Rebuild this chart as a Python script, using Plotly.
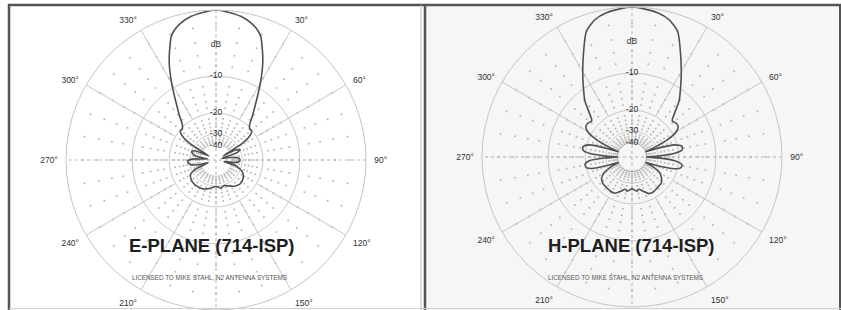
import plotly.graph_objects as go

W, H = 841, 310

# ---------------- data (dB, angle clockwise from 0 = boresight) ----------------
E_THETA = [0, 10, 15, 18, 20, 23, 25, 27, 30, 33, 36, 40, 43, 47, 51, 55, 58, 60, 63, 67, 71, 75,
           80, 86, 92, 97, 101, 106, 115, 125, 135, 145, 155, 163, 170, 175, 180, 185, 190, 197,
           205, 212, 220, 230, 240, 246, 251, 255, 260, 267, 272, 277, 281, 286, 290, 294, 299,
           302, 305, 309, 313, 317, 320, 324, 327, 330, 333, 335, 337, 340, 342, 345, 350, 360]
E_DB = [0, -0.5, -1.1, -1.7, -2.3, -4.0, -5.2, -6.6, -9.0, -11.6, -14.0, -16.8, -19.0, -20.3, -20.3,
        -22.5, -28, -50, -33, -30, -33, -55,
        -40, -32, -31.5, -35, -50, -34, -28, -26, -25.5, -26.5, -28.5, -29.5, -28.5, -29.3, -29.6,
        -29.3, -28.5, -27.5, -26.6, -26.4, -26.2, -26.6, -27.9, -33, -50, -36, -30, -28.5, -31,
        -50, -34, -31, -30.3, -33, -50, -28, -22.5, -20.3, -20.3, -19.0, -16.8, -14.0, -11.6,
        -9.0, -6.6, -5.2, -4.0, -2.3, -1.7, -1.1, -0.5, 0]

H_THETA = [0, 10, 15, 20, 25, 30, 35, 40, 44, 48, 53, 57, 61, 64, 67, 69, 71, 74, 78, 82, 85, 88,
           90, 92, 95, 99, 103, 106, 109, 112, 115, 119, 125, 132, 140, 148, 155, 162, 168, 172,
           177, 180, 183, 188, 192, 198, 205, 212, 220, 228, 235, 241, 245, 248, 251, 254, 257,
           261, 265, 268, 270, 272, 275, 278, 282, 286, 289, 291, 293, 296, 299, 303, 307, 312,
           316, 320, 325, 330, 335, 340, 345, 350, 360]
H_DB = [0, -0.4, -0.9, -2.0, -4.6, -7.2, -9.8, -12.3, -15.3, -17.5, -17.0, -17.2, -19, -23, -32,
        -40, -30, -21, -18.5, -18.6, -21.5, -30, -40, -30, -21.5, -18.6, -19, -22, -30, -40, -32,
        -27, -24.5, -23, -22.8, -22.3, -22.5, -24.5, -26, -25.2, -26.2, -26.8, -26.2, -25.2, -26,
        -24.5, -22.7, -22.5, -22.8, -23, -24, -27, -32, -40, -30, -22, -20, -19.7, -21.5, -30, -40,
        -30, -21.5, -19, -18.9, -21, -30, -40, -32, -23, -19, -17.2, -17.0, -17.5, -15.3, -12.3,
        -9.8, -7.2, -4.6, -2.0, -0.9, -0.4, 0]

ANGLE_TICKS = [30, 60, 90, 120, 150, 210, 240, 270, 300, 330]
ANGLE_LABELS = ["30°", "60°", "90°", "120°", "150°", "210°", "240°", "270°", "300°", "330°"]
RING_DB = [-10, -20, -30]
RING_LABELS = ["-10", "-20", "-30", "-40"]
RING_LABEL_DB = [-10, -20, -30, -40]
DB_UNIT_LEVEL = -4.5
TITLES = ["E-PLANE (714-ISP)", "H-PLANE (714-ISP)"]
LICENSE = "LICENSED TO MIKE STAHL, N2 ANTENNA SYSTEMS"
FLOOR_DB = [-60, -40]


def arrl(db):
    # ARRL log-periodic radial scale (0.89 per 2 dB)
    return 0.89 ** (-db / 2.0)


GRID = "#c4c4c4"
DOT = "#b8b8b8"
CURVE = "#505050"
TXT = "#303030"

fig = go.Figure()

panels = [
    dict(name="polar", cx=216, cy=160, R=150, theta=E_THETA, db=E_DB),
    dict(name="polar2", cx=632, cy=157, R=150, theta=H_THETA, db=H_DB),
]

full_circle = list(range(0, 361, 2))
for i, p in enumerate(panels):
    sp = p["name"]
    # dotted grid points
    dth, dr = [], []
    for a in range(0, 360, 10):
        for lv in range(-2, -40, -2):
            if lv % 10 == 0:
                continue
            dth.append(a)
            dr.append(arrl(lv))
    fig.add_trace(go.Scatterpolar(theta=dth, r=dr, mode="markers", subplot=sp,
                                  marker=dict(size=2, color=DOT), hoverinfo="skip"))
    # rings
    for lv in RING_DB:
        fig.add_trace(go.Scatterpolar(theta=full_circle, r=[arrl(lv)] * len(full_circle),
                                      mode="lines", subplot=sp, hoverinfo="skip",
                                      line=dict(color=GRID, width=1)))
    if i == 1:
        fig.add_trace(go.Scatterpolar(theta=full_circle, r=[arrl(-40)] * len(full_circle),
                                      mode="lines", subplot=sp, hoverinfo="skip",
                                      line=dict(color="#8a8a8a", width=1)))
    # solid spokes
    for a in [30, 60, 120, 150, 210, 240, 300, 330]:
        fig.add_trace(go.Scatterpolar(theta=[a, a], r=[arrl(-20), 1], mode="lines", subplot=sp,
                                      hoverinfo="skip", line=dict(color=GRID, width=1)))
    # dotted axes
    for a in [0, 90]:
        fig.add_trace(go.Scatterpolar(theta=[a, a + 180], r=[1, 1], mode="lines", subplot=sp,
                                      hoverinfo="skip", line=dict(color="#b0b0b0", width=1, dash="dot")))
    # pattern curve
    rr = [arrl(max(d, FLOOR_DB[i])) for d in p["db"]]
    fig.add_trace(go.Scatterpolar(theta=p["theta"], r=rr, mode="lines", subplot=sp,
                                  line=dict(color=CURVE, width=1.6, shape="spline", smoothing=0.7),
                                  hoverinfo="skip"))
    # radial labels
    fig.add_trace(go.Scatterpolar(theta=[0] * 5, r=[arrl(DB_UNIT_LEVEL)] + [arrl(v) for v in RING_LABEL_DB],
                                  text=["dB"] + RING_LABELS, mode="text", subplot=sp,
                                  textfont=dict(size=8.5, color=TXT, family="Liberation Sans"),
                                  hoverinfo="skip"))

    R = p["R"]
    x0 = (p["cx"] - R) / W
    x1 = (p["cx"] + R) / W
    y0 = (H - p["cy"] - R) / H
    y1 = (H - p["cy"] + R) / H
    fig.update_layout(**{sp: dict(
        domain=dict(x=[x0, x1], y=[max(0, y0), min(1, y1)]),
        bgcolor="rgba(0,0,0,0)",
        radialaxis=dict(range=[0, 1], visible=False),
        angularaxis=dict(rotation=90, direction="clockwise", tickmode="array",
                         tickvals=ANGLE_TICKS, ticktext=ANGLE_LABELS, showgrid=False,
                         showline=True, linecolor=GRID, linewidth=1, ticks="outside",
                         ticklen=6, tickcolor="rgba(0,0,0,0)",
                         tickfont=dict(size=8.5, color=TXT, family="Liberation Sans")),
    )})

# panel frames
shapes = [
    dict(type="rect", xref="paper", yref="paper", x0=426 / W, x1=839 / W, y0=0, y1=(H - 6) / H,
         fillcolor="#f6f6f6", line=dict(width=0), layer="below"),
    dict(type="line", xref="paper", yref="paper", x0=8 / W, x1=1, y0=(H - 5) / H, y1=(H - 5) / H,
         line=dict(color="#555555", width=2.5)),
    dict(type="line", xref="paper", yref="paper", x0=9 / W, x1=9 / W, y0=0, y1=(H - 4) / H,
         line=dict(color="#555555", width=2.5)),
    dict(type="line", xref="paper", yref="paper", x0=421 / W, x1=421 / W, y0=0, y1=(H - 5) / H,
         line=dict(color="#bdbdbd", width=1)),
    dict(type="line", xref="paper", yref="paper", x0=425 / W, x1=425 / W, y0=0, y1=(H - 5) / H,
         line=dict(color="#555555", width=2.5)),
    dict(type="line", xref="paper", yref="paper", x0=840 / W, x1=840 / W, y0=0, y1=(H - 5) / H,
         line=dict(color="#555555", width=2)),
    dict(type="line", xref="paper", yref="paper", x0=9 / W, x1=1, y0=1.5 / H, y1=1.5 / H,
         line=dict(color="#d0d0d0", width=1)),
]

annotations = []
for (cx, ty), title in zip([(212, 245), (631, 245)], TITLES):
    annotations.append(dict(x=cx / W, y=(H - ty) / H, xref="paper", yref="paper", text=title,
                            showarrow=False, xanchor="center", yanchor="middle",
                            font=dict(size=18.5, color="#1e1e1e", family="Liberation Sans", weight="bold")))
for cx in [209, 625]:
    annotations.append(dict(x=cx / W, y=(H - 277) / H, xref="paper", yref="paper", text=LICENSE,
                            showarrow=False, xanchor="center", yanchor="middle",
                            font=dict(size=6.3, color="#555555", family="Liberation Sans Narrow, Liberation Sans")))

fig.update_layout(width=W, height=H, margin=dict(l=0, r=0, t=0, b=0),
                  paper_bgcolor="white", plot_bgcolor="white", showlegend=False,
                  shapes=shapes, annotations=annotations)

fig.write_html("out.html", config={"displayModeBar": False},
               post_script="document.body.style.margin='0px';document.body.style.overflow='hidden';")
